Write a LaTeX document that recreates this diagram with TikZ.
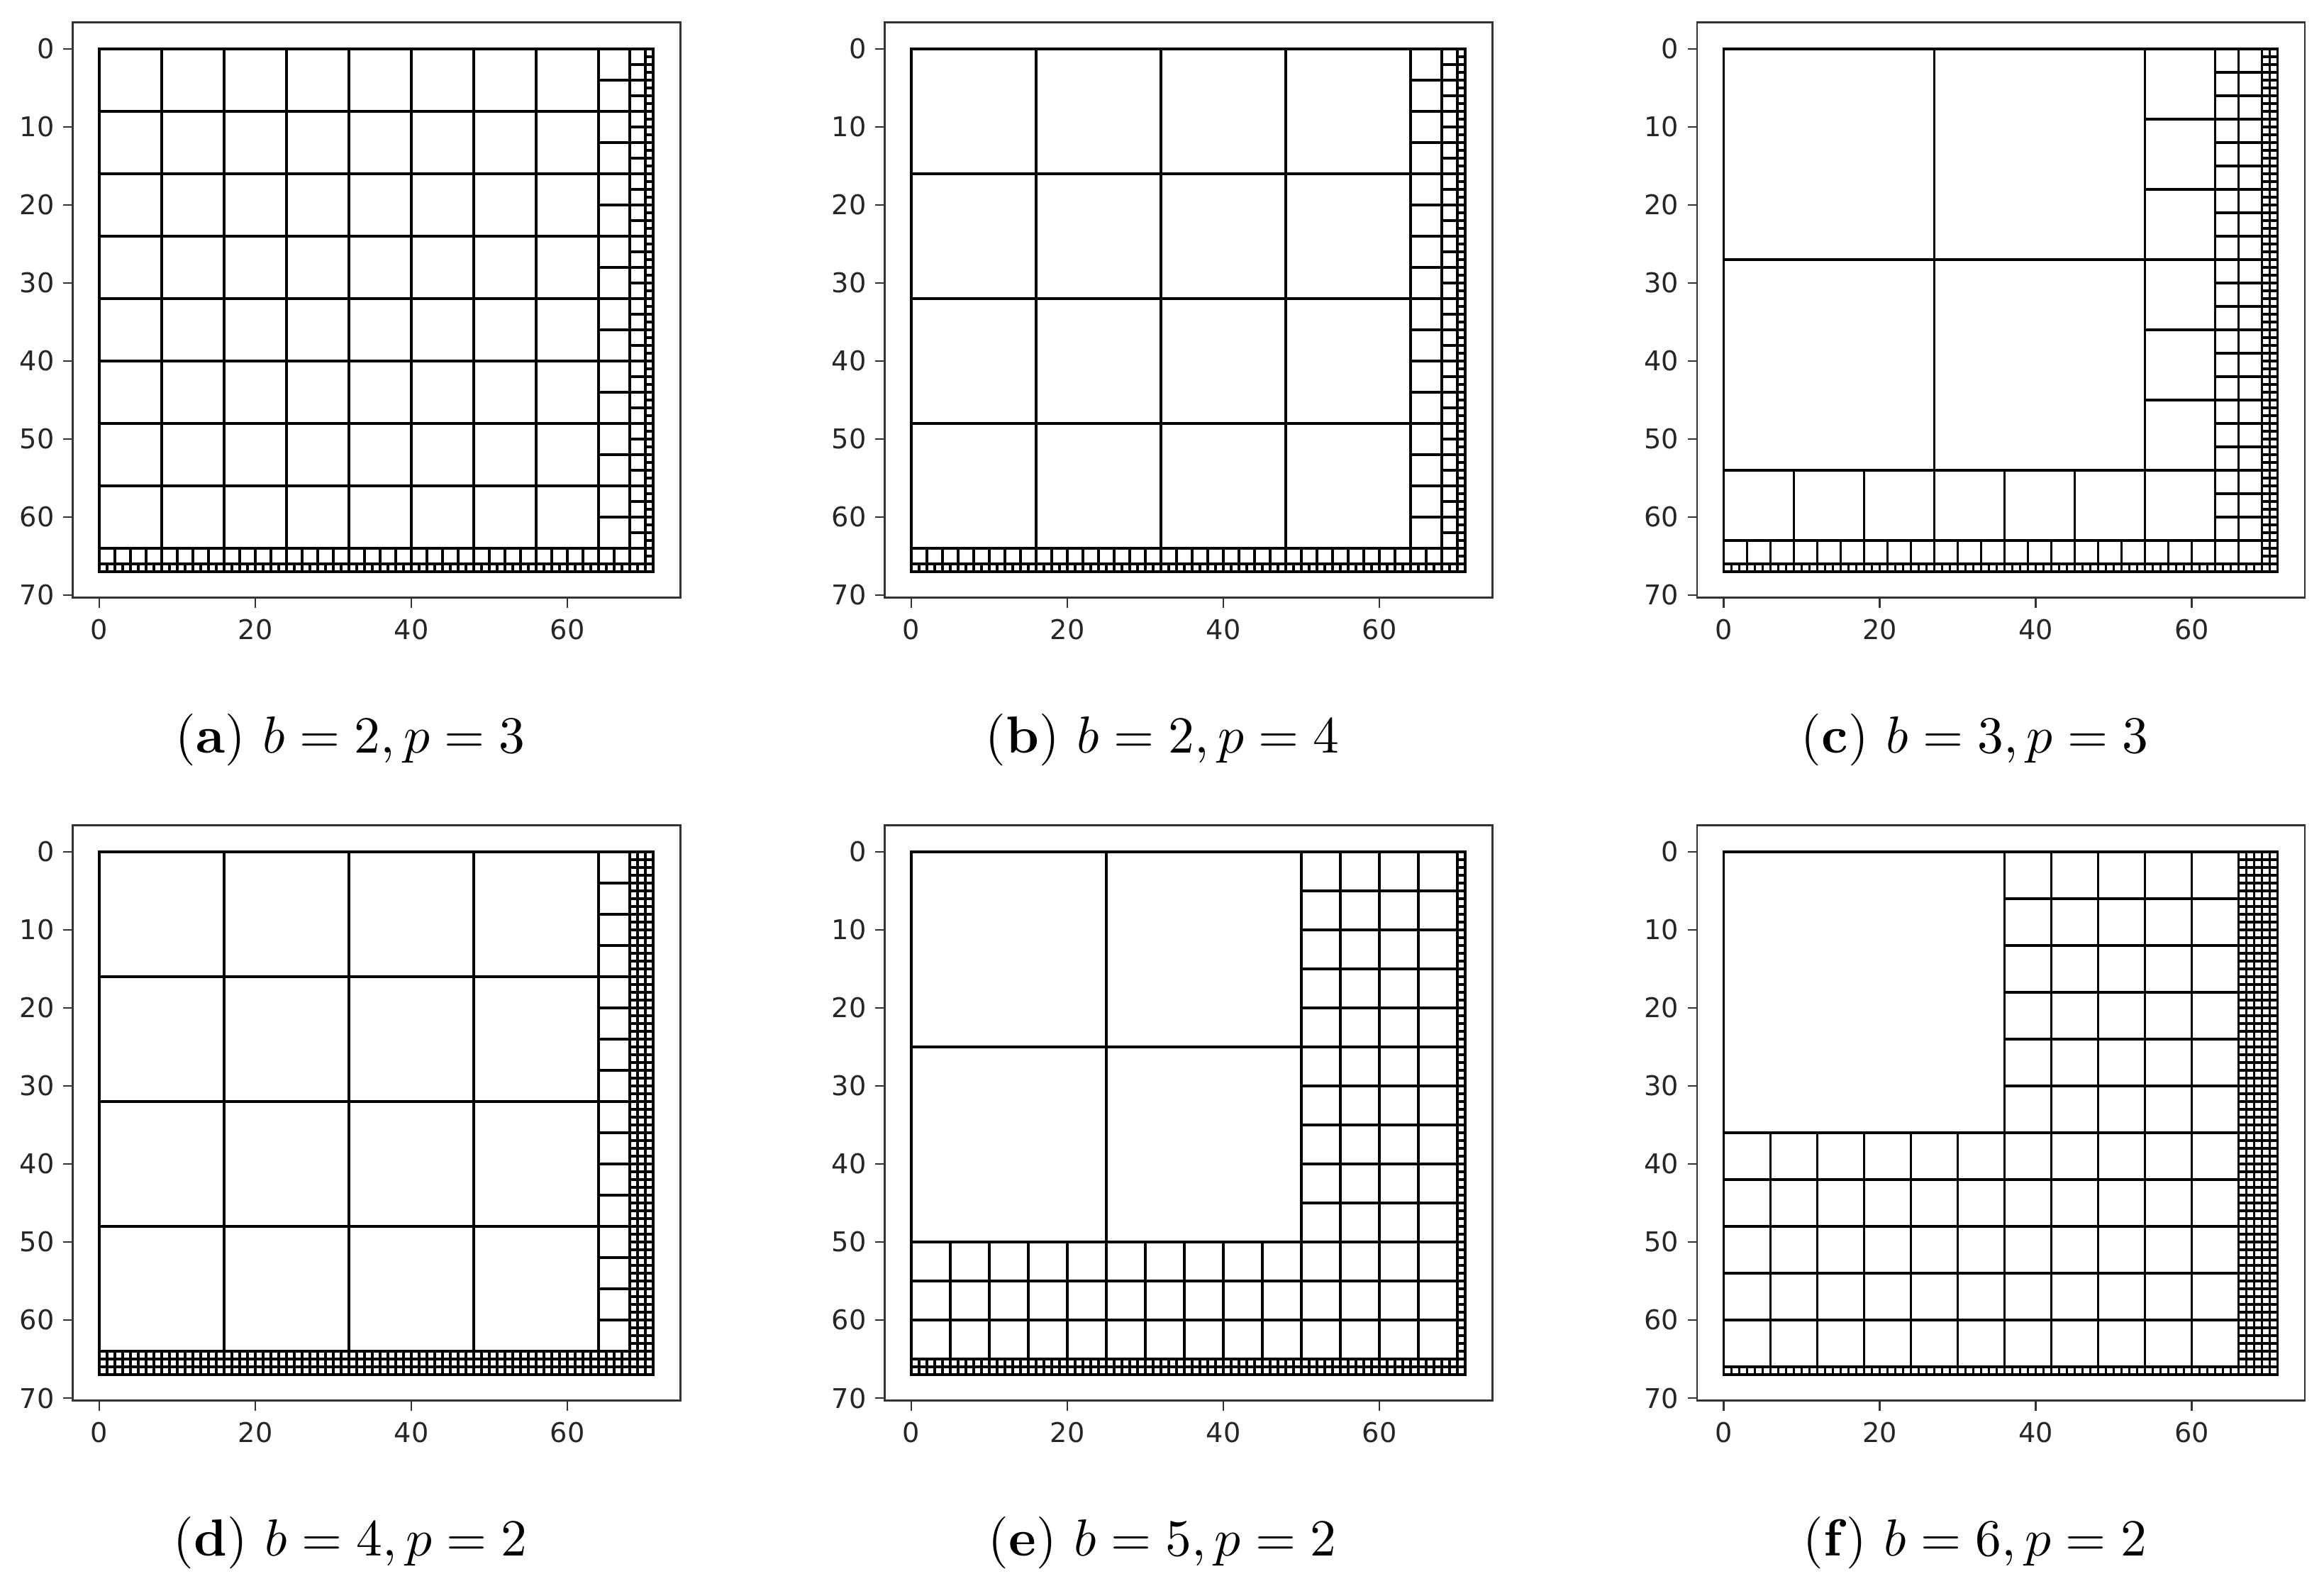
\documentclass[tikz,border=0pt]{standalone}
\usepackage{fontspec}
\newfontfamily\tickfont{DejaVu Sans}
\tikzset{
  cell/.style = {draw=black, line width=0.85pt},
  spine/.style = {draw=black!80, line width=0.7pt},
  tickmark/.style = {draw=black!80, line width=0.7pt},
  ticklab/.style = {font=\tickfont\fontsize{9.9}{12}\selectfont, text=black!85, inner sep=0pt},
  subcap/.style = {scale=1.9, inner sep=0pt, anchor=base}
}
% cells of size #1 on [0,#4)x[0,#5), leaving out [0,#2)x[0,#3)
\newcommand{\cells}[5]{%
  \pgfmathtruncatemacro{\ncol}{#4/#1-1}%
  \pgfmathtruncatemacro{\nrow}{#5/#1-1}%
  \foreach \i in {0,...,\ncol}{%
    \foreach \j in {0,...,\nrow}{%
      \pgfmathtruncatemacro{\drawit}{(\i*#1>=#2)||(\j*#1>=#3)}%
      \ifnum\drawit=1 \draw[cell] (\i*#1,\j*#1) rectangle ++(#1,#1);\fi
    }}}
% spines, ticks and caption of one panel
\newcommand{\plotframe}[2]{%
  \draw[spine] (-3.4,-3.4) rectangle (74.5,70.3);
  \foreach \v in {0,10,...,70}{
    \draw[tickmark] (-3.4,\v) -- (-4.6,\v);
    \node[ticklab, anchor=east] (#1-y\v) at (-5.7,\v) {\v};}
  \foreach \v in {0,20,40,60}{
    \draw[tickmark] (\v,70.3) -- (\v,71.6);
    \node[ticklab, anchor=north] (#1-x\v) at (\v,73) {\v};}
  \node[subcap] (#1-cap) at (32.2,90.2) {#2};
}

\begin{document}
\begin{tikzpicture}[x=1mm, y=1mm]
\useasboundingbox (0,0) rectangle (297.9,-203.2);

% (a)
\begin{scope}[shift={(12.73,-6.27)}, yscale=-1]
  \cells{8}{0}{0}{64}{64}
  \cells{4}{64}{64}{68}{64}
  \cells{2}{68}{64}{70}{66}
  \cells{1}{70}{66}{71}{67}
  \plotframe{a}{(\textbf{a}) $b=2, p=3$}
\end{scope}

% (b)
\begin{scope}[shift={(116.82,-6.27)}, yscale=-1]
  \cells{16}{0}{0}{64}{64}
  \cells{4}{64}{64}{68}{64}
  \cells{2}{68}{64}{70}{66}
  \cells{1}{70}{66}{71}{67}
  \plotframe{b}{(\textbf{b}) $b=2, p=4$}
\end{scope}

% (c)
\begin{scope}[shift={(220.95,-6.27)}, yscale=-1]
  \cells{27}{0}{0}{54}{54}
  \cells{9}{54}{54}{63}{63}
  \cells{3}{63}{63}{69}{66}
  \cells{1}{69}{66}{71}{67}
  \plotframe{c}{(\textbf{c}) $b=3, p=3$}
\end{scope}

% (d)
\begin{scope}[shift={(12.73,-109.18)}, yscale=-1]
  \cells{16}{0}{0}{64}{64}
  \cells{4}{64}{64}{68}{64}
  \cells{1}{68}{64}{71}{67}
  \plotframe{d}{(\textbf{d}) $b=4, p=2$}
\end{scope}

% (e)
\begin{scope}[shift={(116.82,-109.18)}, yscale=-1]
  \cells{25}{0}{0}{50}{50}
  \cells{5}{50}{50}{70}{65}
  \cells{1}{70}{65}{71}{67}
  \plotframe{e}{(\textbf{e}) $b=5, p=2$}
\end{scope}

% (f)
\begin{scope}[shift={(220.95,-109.18)}, yscale=-1]
  \cells{36}{0}{0}{36}{36}
  \cells{6}{36}{36}{66}{66}
  \cells{1}{66}{66}{71}{67}
  \plotframe{f}{(\textbf{f}) $b=6, p=2$}
\end{scope}

\end{tikzpicture}
\end{document}
